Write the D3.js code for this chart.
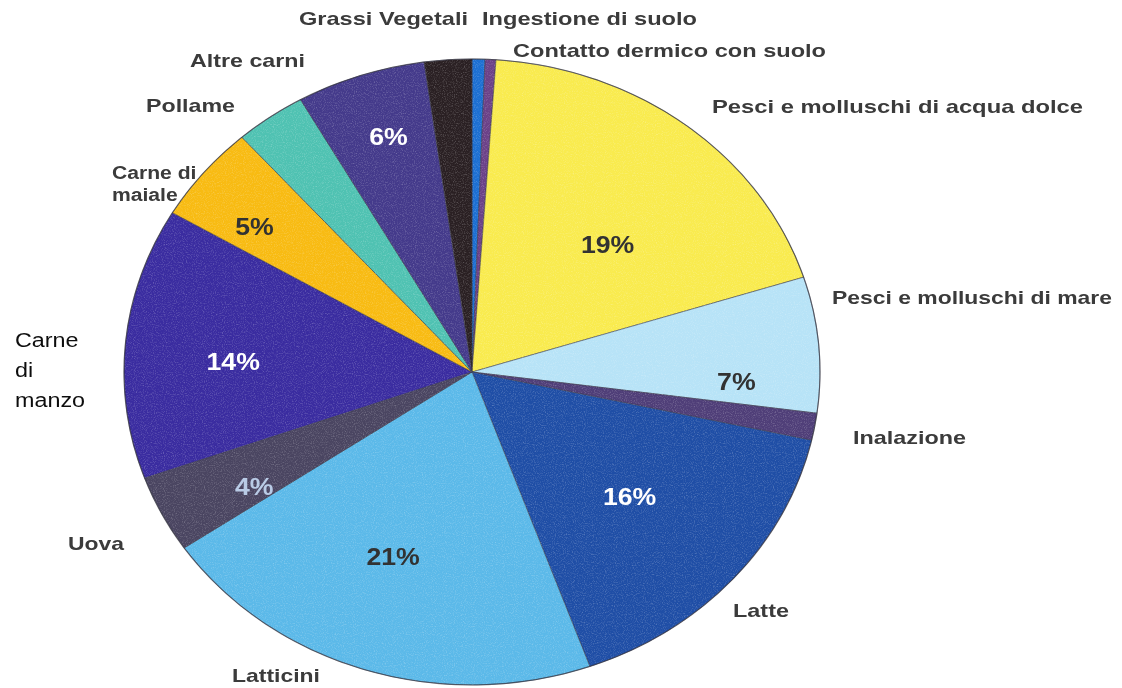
<!DOCTYPE html>
<html>
<head>
<meta charset="utf-8">
<script src="https://cdn.jsdelivr.net/npm/d3@7/dist/d3.min.js"></script>
<style>
  html, body { margin: 0; padding: 0; background: #ffffff; }
  svg { display: block; }
</style>
</head>
<body>
<svg id="chart" width="1122" height="688"></svg>
<script>
// Exposure sources, clockwise from 12 o'clock
const categories = [
  "Ingestione di suolo",
  "Contatto dermico con suolo",
  "Pesci e molluschi di acqua dolce",
  "Pesci e molluschi di mare",
  "Inalazione",
  "Latte",
  "Latticini",
  "Uova",
  "Carne di manzo",
  "Carne di maiale",
  "Pollame",
  "Altre carni",
  "Grassi Vegetali"
];
// Share of total intake (%)
const shares = [0.6, 0.5, 19, 7, 1.4, 16, 21, 4, 14, 5, 3.3, 6, 2.2];
// Percent labels printed inside slices (null = none)
const percentLabels = [null, null, "19%", "7%", null, "16%", "21%", "4%", "14%", "5%", null, "6%", null];

const colors = [
  "#1c6fd2", "#6b4188", "#f9eb4e", "#b7e3f7", "#4f3e78", "#1f4ea6",
  "#5bb9e9", "#4a4561", "#3a2ca0", "#f8bb12", "#4fc2b2", "#443a8b", "#2a2023"
];
const percentColors = [null, null, "#333333", "#333333", null, "#ffffff",
  "#333333", "#b9cbe6", "#ffffff", "#333333", null, "#ffffff", null];
// inside label placement: [angle offset in degrees, radius]
const percentPlacement = [null, null, [5.7, 176], [7.4, 238], null, [0, 189],
  [3, 198], [-3.4, 227], [-2.7, 215], [-2.9, 244], null, [1, 247], null];

// outside label layout: [text lines, x, y (centre of first line), width, line gap, style]
const outerLabels = [
  [["Grassi Vegetali"], 299, 18, 169, 0, "b"],
  [["Ingestione di suolo"], 482, 18, 215, 0, "b"],
  [["Contatto dermico con suolo"], 513, 50, 313, 0, "b"],
  [["Pesci e molluschi di acqua dolce"], 712, 106, 371, 0, "b"],
  [["Pesci e molluschi di mare"], 832, 297, 280, 0, "b"],
  [["Inalazione"], 853, 437, 113, 0, "b"],
  [["Latte"], 733, 610, 56, 0, "b"],
  [["Latticini"], 232, 675, 88, 0, "b"],
  [["Uova"], 68, 543, 56, 0, "b"],
  [["Carne", "di", "manzo"], 15, 340, null, 30, "r"],
  [["Carne di", "maiale"], 112, 172, null, 22, "b"],
  [["Pollame"], 146, 105, 89, 0, "b"],
  [["Altre carni"], 190, 60, 115, 0, "b"]
];

const width = 1122, height = 688;
const cx = 472, cy = 372, ry = 313, rx = 348;
const sx = rx / ry;

const svg = d3.select("#chart");
const defs = svg.append("defs");

// grainy surface texture
const f = defs.append("filter").attr("id", "grain")
  .attr("x", 0).attr("y", 0).attr("width", "100%").attr("height", "100%");
f.append("feTurbulence").attr("type", "fractalNoise")
  .attr("baseFrequency", 0.9).attr("numOctaves", 2).attr("seed", 3).attr("result", "n");
f.append("feColorMatrix").attr("type", "matrix")
  .attr("values", "0 0 0 0 1  0 0 0 0 1  0 0 0 0 1  0 0 0 1.6 -0.75");

defs.append("clipPath").attr("id", "pieClip")
  .append("ellipse").attr("cx", cx).attr("cy", cy).attr("rx", rx).attr("ry", ry);

const soft = defs.append("filter").attr("id", "soft");
soft.append("feGaussianBlur").attr("stdDeviation", 0.45);

// outside labels (drawn first, the pie overlaps some of them)
const labelG = svg.append("g").attr("filter", "url(#soft)");
outerLabels.forEach(([lines, x, y, w, gap, style]) => {
  lines.forEach((line, i) => {
    const t = labelG.append("text")
      .attr("x", x)
      .attr("y", y + i * gap)
      .attr("dy", "0.35em")
      .attr("font-family", "'Liberation Sans', Arial, sans-serif")
      .attr("font-size", style === "r" ? 21 : 19)
      .attr("font-weight", style === "r" ? 400 : 700)
      .attr("fill", style === "r" ? "#111111" : "#3a3a3a")
      .attr("transform", w ? null : `translate(${x},0) scale(${sx},1) translate(${-x},0)`)
      .text(line);
    if (w && i === 0) t.attr("textLength", w).attr("lengthAdjust", "spacingAndGlyphs");
  });
});

const pie = d3.pie().sort(null).value(d => d)(shares);
const arc = d3.arc().innerRadius(0).outerRadius(ry);

const pieG = svg.append("g")
  .attr("transform", `translate(${cx},${cy}) scale(${sx},1)`);

pieG.selectAll("path.slice")
  .data(pie)
  .join("path")
  .attr("class", "slice")
  .attr("d", arc)
  .attr("fill", (d, i) => colors[i])
  .attr("stroke", "#3a3a4a")
  .attr("stroke-opacity", 0.55)
  .attr("stroke-width", 1)
  .attr("vector-effect", "non-scaling-stroke");

// grain overlay
svg.append("rect")
  .attr("x", cx - rx).attr("y", cy - ry)
  .attr("width", rx * 2).attr("height", ry * 2)
  .attr("clip-path", "url(#pieClip)")
  .attr("filter", "url(#grain)")
  .attr("opacity", 0.35);

// outer rim
svg.append("ellipse")
  .attr("cx", cx).attr("cy", cy).attr("rx", rx).attr("ry", ry)
  .attr("fill", "none").attr("stroke", "#2e2e3a").attr("stroke-opacity", 0.6).attr("stroke-width", 1.2);

// percent labels inside slices
const pctG = svg.append("g").attr("filter", "url(#soft)");
pie.forEach((d, i) => {
  if (!percentLabels[i]) return;
  const [off, r] = percentPlacement[i];
  const a = (d.startAngle + d.endAngle) / 2 + off * Math.PI / 180;
  const x = cx + sx * r * Math.sin(a);
  const y = cy - r * Math.cos(a);
  pctG.append("text")
    .attr("x", x).attr("y", y)
    .attr("dy", "0.35em")
    .attr("text-anchor", "middle")
    .attr("font-family", "'Liberation Sans', Arial, sans-serif")
    .attr("font-size", 24)
    .attr("font-weight", 700)
    .attr("fill", percentColors[i])
    .attr("transform", `translate(${x},${y}) scale(${sx},1) translate(${-x},${-y})`)
    .text(percentLabels[i]);
});
</script>
</body>
</html>
